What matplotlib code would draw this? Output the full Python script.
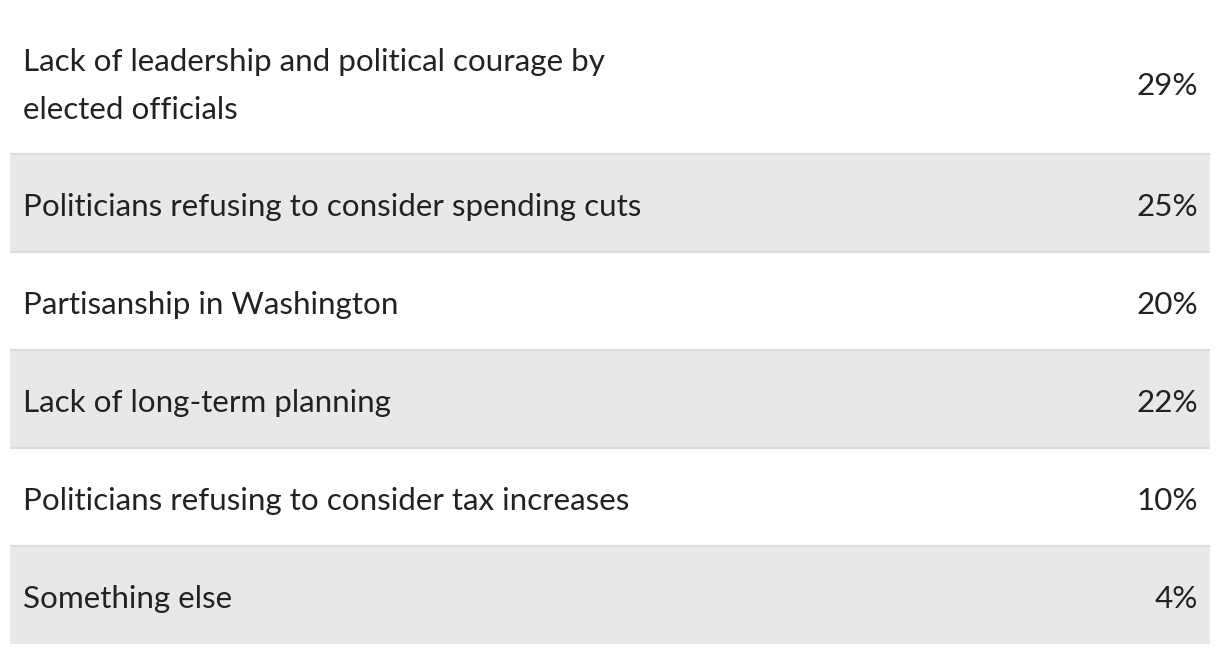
import matplotlib.pyplot as plt
from matplotlib.patches import Rectangle

labels = [
    "Lack of leadership and political courage by\nelected officials",
    "Politicians refusing to consider spending cuts",
    "Partisanship in Washington",
    "Lack of long-term planning",
    "Politicians refusing to consider tax increases",
    "Something else",
]
values = [29, 25, 20, 22, 10, 4]

# layout in pixels
W, H = 1220, 654
left, right = 10, 1210
top = 10
row_heights = [144, 98, 98, 98, 98, 98]

fig = plt.figure(figsize=(W / 100, H / 100), dpi=100)
ax = fig.add_axes([0, 0, 1, 1])
ax.set_xlim(0, W)
ax.set_ylim(H, 0)
ax.axis("off")

y = top
for i, (lab, val) in enumerate(zip(labels, values)):
    h = row_heights[i]
    if i % 2 == 1:
        ax.add_patch(Rectangle((left, y), right - left, h, facecolor="#e8e8e8", edgecolor="none"))
    if i > 0:
        ax.plot([left, right], [y, y], color="#dcdcdc", lw=1.6, solid_capstyle="butt")
    yc = y + h / 2
    ax.text(left + 13, yc + 4, lab, fontsize=22.6, family="Lato", color="#222222",
            va="center", ha="left", linespacing=1.88)
    ax.text(right - 12, yc + 4, f"{val}%", fontsize=22.6, family="Lato", color="#222222",
            va="center", ha="right")
    y += h

fig.savefig("out.png", dpi=100)
